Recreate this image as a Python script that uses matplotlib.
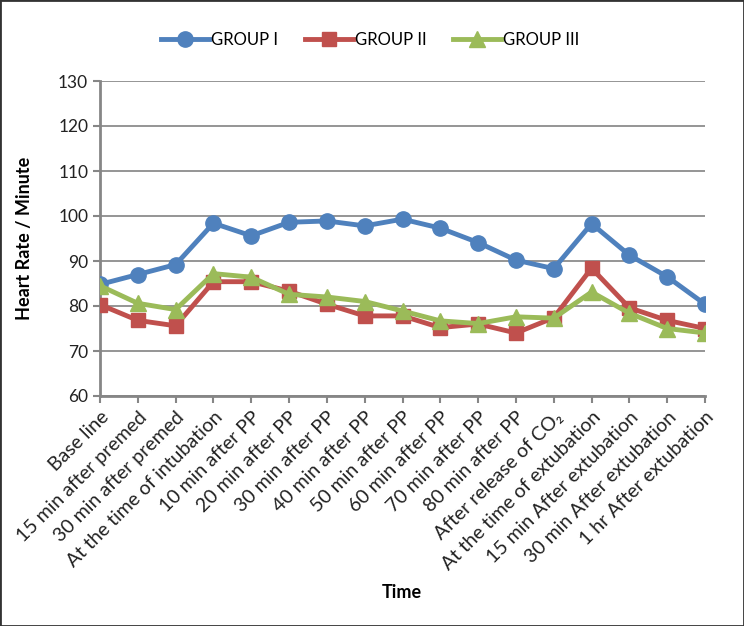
import matplotlib
matplotlib.use('Agg')
import matplotlib.pyplot as plt
from matplotlib.patches import Rectangle

plt.rcParams['font.family'] = ['Lato', 'DejaVu Sans']

times = ['Base line', '15 min after premed', '30 min after premed',
         'At the time of intubation', '10 min after PP', '20 min after PP',
         '30 min after PP', '40 min after PP', '50 min after PP',
         '60 min after PP', '70 min after PP', '80 min after PP',
         'After release of CO\u2082', 'At the time of extubation',
         '15 min After extubation', '30 min After extubation',
         '1 hr After extubation']

group1 = [84.8, 87.0, 89.2, 98.4, 95.6, 98.6, 98.9, 97.8, 99.3, 97.3,
          94.1, 90.2, 88.3, 98.3, 91.3, 86.5, 80.4]
group2 = [80.3, 76.8, 75.6, 85.4, 85.4, 83.3, 80.4, 77.8, 77.8, 75.2,
          76.0, 74.0, 77.4, 88.4, 79.6, 76.8, 75.0]
group3 = [84.5, 80.6, 79.2, 87.2, 86.4, 82.6, 82.0, 81.0, 78.9, 76.7,
          76.1, 77.6, 77.3, 83.1, 78.4, 75.0, 74.0]

yticks = [60, 70, 80, 90, 100, 110, 120, 130]

fig = plt.figure(figsize=(7.44, 6.26), dpi=100)
ax = fig.add_axes([100 / 744, 1 - 396 / 626, 605 / 744, 315 / 626])

x = list(range(len(times)))
series = [('GROUP I', group1, '#4F81BD', 'o', 11),
          ('GROUP II', group2, '#C0504D', 's', 10.5),
          ('GROUP III', group3, '#9BBB59', '^', 12)]
for name, vals, col, mk, ms in series:
    ax.plot(x, vals, color=col, lw=3.5, marker=mk, markersize=ms,
            markeredgecolor=col, label=name, zorder=3)

ax.set_xlim(0, len(times) - 1)
ax.set_ylim(60, 130)
ax.set_yticks(yticks)
ax.set_xticks(x)
ax.set_xticklabels(times, rotation=45, ha='right', rotation_mode='anchor',
                   fontsize=14)
ax.tick_params(axis='y', labelsize=12.5, colors='#868686', labelcolor='#222222',
               length=5, width=1.5)
ax.tick_params(axis='x', colors='#868686', labelcolor='#222222', length=5,
               width=1.5, pad=4)
ax.grid(axis='y', color='#8c8c8c', lw=1.3)
ax.set_axisbelow(True)
for s in ['top', 'right']:
    ax.spines[s].set_visible(False)
for s in ['left', 'bottom']:
    ax.spines[s].set_color('#868686')
    ax.spines[s].set_linewidth(2)

ax.set_ylabel('Heart Rate / Minute', fontsize=13, fontweight='bold')
ax.yaxis.set_label_coords(-67 / 605, 0.5)
fig.text(402 / 744, 1 - 593 / 626, 'Time', fontsize=13, fontweight='bold',
         ha='center', va='center')

fig.legend(loc='center', bbox_to_anchor=(370 / 744, 1 - 40 / 626), ncol=3,
           frameon=False, fontsize=12, handlelength=2.9, columnspacing=1.6,
           handletextpad=0.1)

fig.add_artist(Rectangle((0, 0), 1, 1, transform=fig.transFigure, fill=False,
                         edgecolor='#333333', lw=2))

fig.savefig('out.png', dpi=100)
